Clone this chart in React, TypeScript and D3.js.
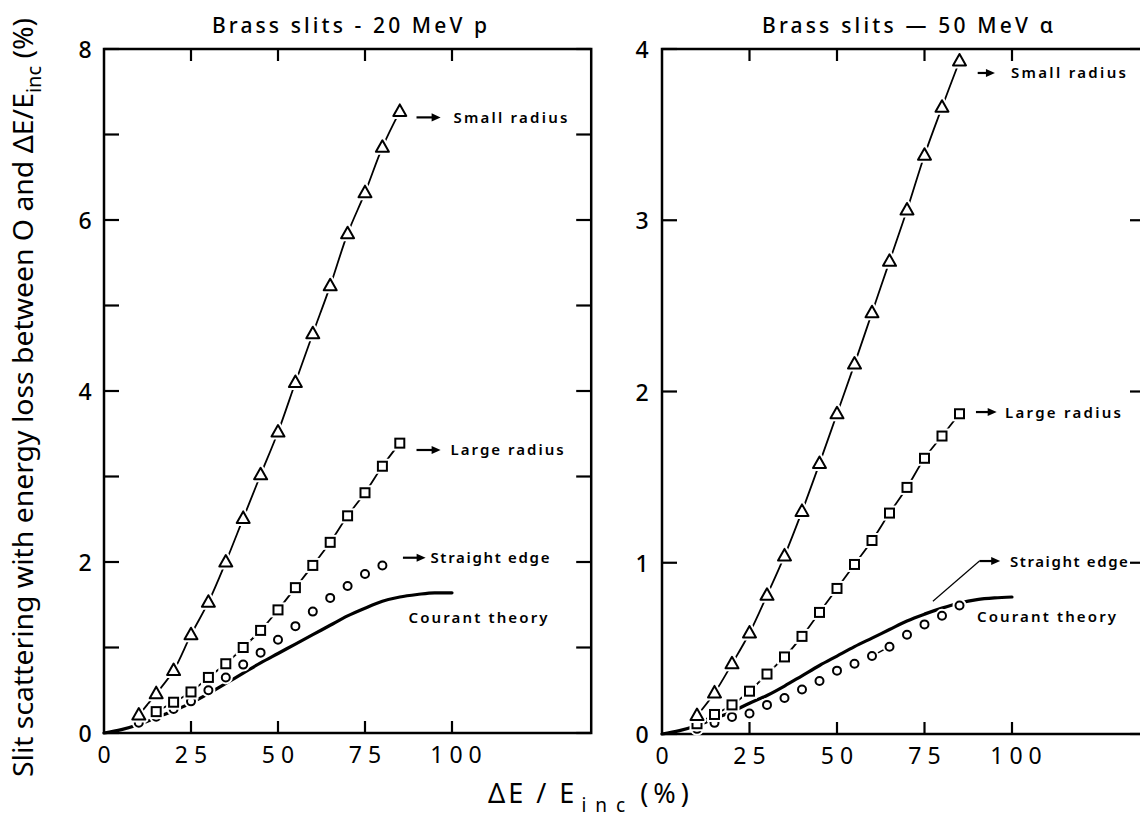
import React from "react";
import * as d3 from "d3";

// ---------- data ----------
const pointX = [10, 15, 20, 25, 30, 35, 40, 45, 50, 55, 60, 65, 70, 75, 80, 85];
const courantX = [0, 5, 10, 15, 20, 25, 30, 35, 40, 45, 50, 55, 60, 65, 70, 75, 80, 85, 90, 95, 100];

// Left panel: Brass slits - 20 MeV p
const leftSmall = [0.21, 0.46, 0.73, 1.15, 1.53, 2.0, 2.51, 3.02, 3.52, 4.1, 4.67, 5.23, 5.84, 6.32, 6.85, 7.27];
const leftLargeX = [15, 20, 25, 30, 35, 40, 45, 50, 55, 60, 65, 70, 75, 80, 85];
const leftLarge = [0.25, 0.36, 0.48, 0.65, 0.81, 1.0, 1.2, 1.44, 1.7, 1.96, 2.23, 2.54, 2.81, 3.12, 3.39];
const leftStraightX = [10, 15, 20, 25, 30, 35, 40, 45, 50, 55, 60, 65, 70, 75, 80];
const leftStraight = [0.12, 0.19, 0.28, 0.37, 0.5, 0.65, 0.8, 0.94, 1.09, 1.25, 1.42, 1.58, 1.72, 1.86, 1.96];
const leftCourant = [0, 0.04, 0.1, 0.18, 0.26, 0.35, 0.46, 0.58, 0.7, 0.82, 0.93, 1.04, 1.15, 1.26, 1.37, 1.46, 1.54, 1.59, 1.62, 1.64, 1.64];

// Right panel: Brass slits - 50 MeV alpha
const rightSmall = [0.108, 0.24, 0.41, 0.59, 0.81, 1.04, 1.3, 1.58, 1.87, 2.16, 2.46, 2.76, 3.06, 3.38, 3.66, 3.93];
const rightLarge = [0.06, 0.114, 0.17, 0.25, 0.35, 0.45, 0.57, 0.71, 0.85, 0.99, 1.13, 1.29, 1.44, 1.61, 1.74, 1.87];
const rightStraight = [0.03, 0.065, 0.1, 0.12, 0.17, 0.21, 0.26, 0.31, 0.37, 0.41, 0.455, 0.51, 0.58, 0.64, 0.69, 0.75];
const rightCourant = [0, 0.02, 0.05, 0.09, 0.13, 0.18, 0.225, 0.28, 0.34, 0.4, 0.455, 0.51, 0.56, 0.61, 0.66, 0.7, 0.735, 0.765, 0.785, 0.795, 0.8];

const xTickValues = [25, 50, 75, 100];
const xTickLabels = ["0", "25", "50", "75", "100"];
const leftYTicks = [0, 1, 2, 3, 4, 5, 6, 7, 8];
const leftYLabels = ["0", "2", "4", "6", "8"];
const rightYTicks = [0, 1, 2, 3, 4];
const rightYLabels = ["0", "1", "2", "3", "4"];

const leftTitle = "Brass slits - 20 MeV p";
const rightTitle = "Brass slits \u2014 50 MeV \u03B1";
const seriesNames = ["Small radius", "Large radius", "Straight edge", "Courant theory"];

const FONT = "'Noto Sans', 'DejaVu Sans', sans-serif";

type Pt = [number, number];
const zip = (xs: number[], ys: number[]): Pt[] => xs.map((x, i) => [x, ys[i]]);

function Marker({ kind, x, y }: { kind: string; x: number; y: number }) {
  const draw = (stroke: string, sw: number) => {
    if (kind === "tri")
      return <path d={`M${x},${y - 7} L${x + 6.5},${y + 4.5} L${x - 6.5},${y + 4.5} Z`} fill="white" stroke={stroke} strokeWidth={sw} strokeLinejoin="round" />;
    if (kind === "sq")
      return <rect x={x - 4.5} y={y - 4.5} width={9} height={9} fill="white" stroke={stroke} strokeWidth={sw} />;
    return <circle cx={x} cy={y} r={4} fill="white" stroke={stroke} strokeWidth={sw} />;
  };
  return (
    <g>
      {draw("white", 6)}
      {draw("black", 2)}
    </g>
  );
}

type Ann = { text: string; x: number; y: number; width: number; arrow?: [number, number]; leader?: Pt[] };

type PanelProps = {
  x: d3.ScaleLinear<number, number>;
  y: d3.ScaleLinear<number, number>;
  xMax: number;
  yTicks: number[];
  yLabels: string[];
  labelX: number;
  title: string;
  titleX: [number, number];
  small: Pt[];
  large: Pt[];
  straight: Pt[];
  straightLink?: Pt[];
  courant: Pt[];
  anns: Ann[];
};

function Panel(p: PanelProps) {
  const { x, y } = p;
  const yMax = y.domain()[1];
  const x0 = x(0), x1 = x(p.xMax), y0 = y(0), y1 = y(yMax);
  const connector = d3.line<Pt>().x((d) => x(d[0])).y((d) => y(d[1])).curve(d3.curveCatmullRom.alpha(0.5));
  const theory = d3.line<Pt>().x((d) => x(d[0])).y((d) => y(d[1])).curve(d3.curveMonotoneX);
  const straightLine = d3.line<Pt>().x((d) => x(d[0])).y((d) => y(d[1]));
  return (
    <g>
      <text x={p.titleX[0]} y={33} fontFamily={FONT} fontSize={21} fontWeight={500} textLength={p.titleX[1] - p.titleX[0]} lengthAdjust="spacing">
        {p.title}
      </text>
      <rect x={x0} y={y1} width={x1 - x0} height={y0 - y1} fill="none" stroke="black" strokeWidth={2.5} />
      {p.yTicks.map((t) => (
        <g key={"yt" + t}>
          <line x1={x0} x2={x0 + 15} y1={y(t)} y2={y(t)} stroke="black" strokeWidth={2.2} />
          <line x1={x1 - 15} x2={x1} y1={y(t)} y2={y(t)} stroke="black" strokeWidth={2.2} />
        </g>
      ))}
      {p.yLabels.map((l) => (
        <text key={"yl" + l} x={p.labelX} y={y(+l) + 9} textAnchor="middle" fontFamily={FONT} fontSize={23} fontWeight={500}>
          {l}
        </text>
      ))}
      {xTickValues.map((t) => (
        <g key={"xt" + t}>
          <line x1={x(t)} x2={x(t)} y1={y0} y2={y0 - 12} stroke="black" strokeWidth={2.2} />
          <line x1={x(t)} x2={x(t)} y1={y1} y2={y1 + 12} stroke="black" strokeWidth={2.2} />
        </g>
      ))}
      {xTickLabels.map((l) => (
        <text key={"xl" + l} x={x(+l) + 3 + (l === "100" ? 4 : 0)} y={y0 + 30} textAnchor="middle" fontFamily={FONT} fontSize={23} letterSpacing={6}>
          {l}
        </text>
      ))}
      {/* data lines */}
      <path d={connector(p.small) || ""} fill="none" stroke="black" strokeWidth={1.8} />
      <path d={connector(p.large) || ""} fill="none" stroke="black" strokeWidth={1.8} />
      {p.straightLink && <path d={straightLine(p.straightLink) || ""} fill="none" stroke="black" strokeWidth={1.5} />}
      <path d={theory(p.courant) || ""} fill="none" stroke="black" strokeWidth={3.2} strokeLinecap="round" />
      {p.straight.map((d, i) => (
        <Marker key={"c" + i} kind="circ" x={x(d[0])} y={y(d[1])} />
      ))}
      {p.large.map((d, i) => (
        <Marker key={"s" + i} kind="sq" x={x(d[0])} y={y(d[1])} />
      ))}
      {p.small.map((d, i) => (
        <Marker key={"t" + i} kind="tri" x={x(d[0])} y={y(d[1])} />
      ))}
      {p.anns.map((a, i) => (
        <g key={"a" + i}>
          {a.leader && (
            <path d={straightLine(a.leader) || ""} fill="none" stroke="black" strokeWidth={1.2} />
          )}
          {a.arrow && (
            <line x1={x(a.arrow[0])} x2={x(a.arrow[1]) - 8} y1={y(a.y)} y2={y(a.y)} stroke="black" strokeWidth={2.2} markerEnd="url(#arrowHead)" />
          )}
          <text x={x(a.x)} y={y(a.y) + 5.5} fontFamily={FONT} fontSize={15} fontWeight={600} textLength={a.width} lengthAdjust="spacing">
            {a.text}
          </text>
        </g>
      ))}
    </g>
  );
}

export default function App() {
  const xL = d3.scaleLinear().domain([0, 100]).range([104, 452]);
  const yL = d3.scaleLinear().domain([0, 8]).range([733, 49]);
  const xR = d3.scaleLinear().domain([0, 100]).range([662, 1012]);
  const yR = d3.scaleLinear().domain([0, 4]).range([734, 49]);

  const leftAnns: Ann[] = [
    { text: seriesNames[0], x: 100.4, y: 7.2, width: 114, arrow: [89.8, 96.7] },
    { text: seriesNames[1], x: 99.6, y: 3.31, width: 113, arrow: [89.8, 96.7] },
    { text: seriesNames[2], x: 93.8, y: 2.05, width: 119, arrow: [85.9, 92.4] },
    { text: seriesNames[3], x: 87.5, y: 1.35, width: 139 },
  ];
  const rightAnns: Ann[] = [
    { text: seriesNames[0], x: 99.7, y: 3.86, width: 115, arrow: [90.2, 95.1] },
    { text: seriesNames[1], x: 98.0, y: 1.88, width: 116, arrow: [89.7, 95.6] },
    { text: seriesNames[2], x: 99.4, y: 1.01, width: 118, arrow: [90.7, 96.6], leader: [[77.4, 0.775], [90.7, 1.01]] },
    { text: seriesNames[3], x: 90.0, y: 0.686, width: 139 },
  ];

  return (
    <svg width={1140} height={821} viewBox="0 0 1140 821" style={{ position: "absolute", left: 0, top: 0, background: "white" }}>
      <defs>
        <marker id="arrowHead" viewBox="0 0 10 10" refX={1} refY={5} markerWidth={10} markerHeight={9} markerUnits="userSpaceOnUse" orient="auto">
          <path d="M0,0.5 L10,5 L0,9.5 Z" fill="black" />
        </marker>
      </defs>
      <rect x={0} y={0} width={1140} height={821} fill="white" />
      <Panel
        x={xL}
        y={yL}
        xMax={140}
        yTicks={leftYTicks}
        yLabels={leftYLabels}
        labelX={85}
        title={leftTitle}
        titleX={[212, 487]}
        small={zip(pointX, leftSmall)}
        large={zip(leftLargeX, leftLarge)}
        straight={zip(leftStraightX, leftStraight)}
        courant={zip(courantX, leftCourant)}
        anns={leftAnns}
      />
      <Panel
        x={xR}
        y={yR}
        xMax={138}
        yTicks={rightYTicks}
        yLabels={rightYLabels}
        labelX={642}
        title={rightTitle}
        titleX={[762, 1053]}
        small={zip(pointX, rightSmall)}
        large={zip(pointX, rightLarge)}
        straight={zip(pointX, rightStraight)}
        straightLink={[[60, rightStraight[10]], [65, rightStraight[11]]]}
        courant={zip(courantX, rightCourant)}
        anns={rightAnns}
      />
      {/* Y axis title */}
      <text
        transform="translate(33,777) rotate(-90)"
        x={0}
        y={0}
        fontFamily={FONT}
        fontSize={27}
        textLength={759}
        lengthAdjust="spacingAndGlyphs"
      >
        Slit scattering with energy loss between O and ΔE/E
        <tspan fontSize={19} dy={8}>inc</tspan>
        <tspan dy={-8}> (%)</tspan>
      </text>
      {/* X axis title */}
      <text x={488} y={803} fontFamily={FONT} fontSize={27} letterSpacing={3}>
        ΔE / E
        <tspan fontSize={19} dy={9} letterSpacing={9} dx={4}>inc</tspan>
        <tspan dy={-9} dx={6} letterSpacing={5}>(%)</tspan>
      </text>
    </svg>
  );
}
